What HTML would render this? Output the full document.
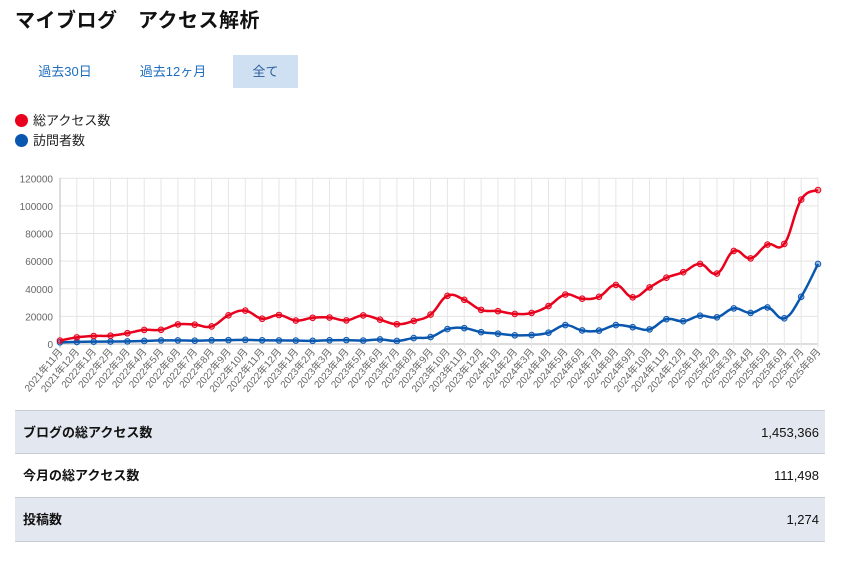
<!DOCTYPE html>
<html><head><meta charset="utf-8">
<style>
body{margin:0;width:850px;height:564px;background:#fff;font-family:"Liberation Sans","Noto Sans CJK JP",sans-serif;overflow:hidden;position:relative}
h1{position:absolute;left:15px;top:4px;margin:0;font-size:20px;font-weight:bold;color:#111;letter-spacing:0.5px}
.tab{position:absolute;top:55px;height:33px;line-height:33px;font-size:13px;color:#1f6cbf;text-align:center}
.leg{position:absolute;left:15px;font-size:13px;color:#222;height:18px;line-height:18px}
.leg i{display:inline-block;width:13px;height:13px;border-radius:50%;vertical-align:-2px;margin-right:5px}
.row{position:absolute;left:15px;width:810px;height:43px;line-height:43px;font-size:13px;color:#111;border-top:1px solid #c8ccd4}
.row b{position:absolute;left:8px}
.row span{position:absolute;right:6px}
</style></head><body>
<h1>マイブログ　アクセス解析</h1>
<div class="tab" style="left:22px;width:86px">過去30日</div>
<div class="tab" style="left:128px;width:90px">過去12ヶ月</div>
<div class="tab" style="left:233px;width:65px;background:#cfe0f3;color:#2a5d9a">全て</div>
<div class="leg" style="top:112px"><i style="background:#e8001c"></i>総アクセス数</div>
<div class="leg" style="top:132px"><i style="background:#0a57b0"></i>訪問者数</div>
<svg id="chart" width="850" height="410" style="position:absolute;left:0;top:0"></svg>
<div class="row" style="top:410px;background:#e3e7ef"><b>ブログの総アクセス数</b><span>1,453,366</span></div>
<div class="row" style="top:453px;background:#fff"><b>今月の総アクセス数</b><span>111,498</span></div>
<div class="row" style="top:497px;background:#e3e7ef;border-bottom:1px solid #c8ccd4"><b>投稿数</b><span>1,274</span></div>
<script>
const categories=["2021年11月","2021年12月","2022年1月","2022年2月","2022年3月","2022年4月","2022年5月","2022年6月","2022年7月","2022年8月","2022年9月","2022年10月","2022年11月","2022年12月","2023年1月","2023年2月","2023年3月","2023年4月","2023年5月","2023年6月","2023年7月","2023年8月","2023年9月","2023年10月","2023年11月","2023年12月","2024年1月","2024年2月","2024年3月","2024年4月","2024年5月","2024年6月","2024年7月","2024年8月","2024年9月","2024年10月","2024年11月","2024年12月","2025年1月","2025年2月","2025年3月","2025年4月","2025年5月","2025年6月","2025年7月","2025年8月"];
const totalAccess=[2500,4800,5800,6000,7800,10200,10300,14200,14000,12700,20800,24200,18300,21000,17000,19000,19200,17100,20700,17600,14300,16700,21300,34900,32000,24700,23800,21800,22500,27500,35800,32800,34200,42800,33800,41000,48000,52000,58000,51000,67400,62000,72000,72500,104600,111498];
const visitors=[1200,1500,1700,1800,1900,2200,2600,2600,2400,2700,2800,3000,2700,2600,2500,2300,2700,2800,2500,3300,2200,4300,5000,10800,11500,8600,7500,6300,6500,8200,13700,9800,9700,13700,12200,10600,18000,16500,20500,19300,25800,22500,26500,18600,34200,58000];
const yTicks=[0,20000,40000,60000,80000,100000,120000];
const X0=60,X1=818,Y0=344,Y1=178.3,YMAX=120000;
const NS="http://www.w3.org/2000/svg";
const svg=document.getElementById('chart');
function xs(i){return X0+(X1-X0)*i/(categories.length-1);}
function ys(v){return Y0-(Y0-Y1)*v/YMAX;}
function mk(t,a){const e=document.createElementNS(NS,t);for(const k in a)e.setAttribute(k,a[k]);svg.appendChild(e);return e;}
yTicks.forEach(t=>{
  const l=mk('line',{x1:X0,x2:X1,y1:ys(t),y2:ys(t),stroke:t===0?'#bbb':'#e4e4e4','stroke-width':1});
  
  
  const tx=mk('text',{x:X0-7,y:ys(t)+4,'text-anchor':'end','font-size':10,fill:'#666','font-family':'Liberation Sans, sans-serif'});
  tx.textContent=t;
  
  
});
categories.forEach((c,i)=>{
  const l=mk('line',{x1:xs(i),x2:xs(i),y1:Y1,y2:Y0+4,stroke:i===0?'#bbb':'#e6e6e6','stroke-width':1});
  
  
  const tx=mk('text',{x:0,y:0,'text-anchor':'end','font-size':10,fill:'#666','font-family':'Liberation Sans, Noto Sans CJK JP, sans-serif',transform:`translate(${xs(i)+3},${Y0+8}) rotate(-50)`});
  tx.textContent=c;
  
  
});
function path(vals){
  const p=vals.map((v,i)=>[xs(i),ys(v)]);const t=0.2;let d=`M${p[0][0]},${p[0][1]}`;
  for(let i=0;i<p.length-1;i++){const a=p[i-1]||p[i],b=p[i],c=p[i+1],e=p[i+2]||c;
    d+=` C${b[0]+(c[0]-a[0])*t},${b[1]+(c[1]-a[1])*t} ${c[0]-(e[0]-b[0])*t},${c[1]-(e[1]-b[1])*t} ${c[0]},${c[1]}`;}
  return d;}
[[visitors,'#0a57b0','visitors'],[totalAccess,'#e8001c','total-access']].forEach(([vals,col,n])=>{
  const pl=mk('path',{d:path(vals),fill:'none',stroke:col,'stroke-width':2.5});
  
  
  vals.forEach((v,i)=>{
    const c=mk('circle',{cx:xs(i),cy:ys(v),r:2.8,fill:col,'fill-opacity':0.35,stroke:col,'stroke-width':1});
    
    
  });
});
</script>
</body></html>
